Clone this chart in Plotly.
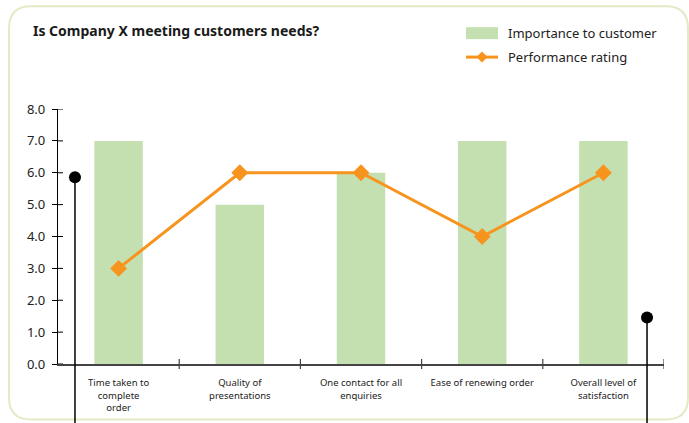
import plotly.graph_objects as go

# ---- data ----
categories = ["Time taken to<br>complete<br>order", "Quality of<br>presentations",
              "One contact for all<br>enquiries", "Ease of renewing order",
              "Overall level of<br>satisfaction"]
importance = [7, 5, 6, 7, 7]
performance = [3, 6, 6, 4, 6]
y_ticks = [0, 1, 2, 3, 4, 5, 6, 7, 8]
y_ticktext = ["0.0", "1.0", "2.0", "3.0", "4.0", "5.0", "6.0", "7.0", "8.0"]
# decorative pins (position on category scale, top value)
pin_x = [-0.36, 4.36]
pin_y = [5.86, 1.46]

# ---- layout geometry (pixels) ----
W, H = 689, 423
L, R, T, B = 58, 25, 109, 58.5
PW, PH = W - L - R, H - T - B
X_RANGE = [-0.5, 4.5]
Y_RANGE = [0, 8]
px_per_x = PW / (X_RANGE[1] - X_RANGE[0])
px_per_y = PH / (Y_RANGE[1] - Y_RANGE[0])


def fx(px):
    return (px - L) / PW


def fy(py):
    return (H - B - py) / PH


def vy(v):
    return (v - Y_RANGE[0]) / (Y_RANGE[1] - Y_RANGE[0])


idx = list(range(len(categories)))
GREEN = "#c5e0b0"
ORANGE = "#f7941d"
FONT = "Noto Sans"

fig = go.Figure()
fig.add_trace(go.Bar(x=idx, y=importance, width=0.4, marker=dict(color=GREEN, line_width=0),
                     showlegend=False))
fig.add_trace(go.Scatter(x=idx, y=performance, mode="lines+markers",
                         line=dict(color=ORANGE, width=3),
                         marker=dict(symbol="diamond", size=13, color=ORANGE),
                         showlegend=False, cliponaxis=False))

shapes = []
# inside halves of the y ticks
dx = 5 / px_per_x
for v in y_ticks:
    shapes.append(dict(type="line", xref="x", yref="y", x0=X_RANGE[0], x1=X_RANGE[0] + dx,
                       y0=v, y1=v, line=dict(color="black", width=1)))

# x tick marks at category boundaries (crossing the axis)
for i in idx:
    b = i + 0.5
    shapes.append(dict(type="line", xref="x", yref="paper", x0=b, x1=b,
                       y0=-5 / PH, y1=5 / PH, line=dict(color="#444", width=1.2)))

# pins
for xp, yp in zip(pin_x, pin_y):
    shapes.append(dict(type="line", xref="x", yref="paper", x0=xp, x1=xp,
                       y0=vy(yp), y1=-(B + 2) / PH, line=dict(color="black", width=1.5)))
fig.add_trace(go.Scatter(x=pin_x, y=pin_y, mode="markers",
                         marker=dict(color="black", size=12),
                         showlegend=False, cliponaxis=False, hoverinfo="skip"))

# ---- rounded border ----
bl, bt, br, bb, rad = 9, 6, 688, 420, 22
path = (f"M {fx(bl + rad)},{fy(bt)} L {fx(br - rad)},{fy(bt)} "
        f"Q {fx(br)},{fy(bt)} {fx(br)},{fy(bt + rad)} "
        f"L {fx(br)},{fy(bb - rad)} Q {fx(br)},{fy(bb)} {fx(br - rad)},{fy(bb)} "
        f"L {fx(bl + rad)},{fy(bb)} Q {fx(bl)},{fy(bb)} {fx(bl)},{fy(bb - rad)} "
        f"L {fx(bl)},{fy(bt + rad)} Q {fx(bl)},{fy(bt)} {fx(bl + rad)},{fy(bt)} Z")
shapes.append(dict(type="path", path=path, xref="paper", yref="paper",
                   line=dict(color="#e1ecc6", width=2), layer="below"))

# ---- manual legend ----
shapes.append(dict(type="rect", xref="paper", yref="paper",
                   x0=fx(466), x1=fx(498), y0=fy(27), y1=fy(39),
                   fillcolor=GREEN, line_width=0))
shapes.append(dict(type="line", xref="paper", yref="paper",
                   x0=fx(466), x1=fx(498), y0=fy(57), y1=fy(57),
                   line=dict(color=ORANGE, width=3)))
cx, cy, d = 482, 57, 5.5
shapes.append(dict(type="path", xref="paper", yref="paper",
                   path=f"M {fx(cx - d)},{fy(cy)} L {fx(cx)},{fy(cy - d)} L {fx(cx + d)},{fy(cy)} L {fx(cx)},{fy(cy + d)} Z",
                   fillcolor=ORANGE, line_width=0))

annotations = [
    dict(text="<b>Is Company X meeting customers needs?</b>", x=fx(31), y=fy(30),
         xref="paper", yref="paper", xanchor="left", yanchor="middle", showarrow=False,
         font=dict(size=14, color="#1a1a1a", family=FONT)),
    dict(text="Importance to customer", x=fx(506), y=fy(33), xref="paper", yref="paper",
         xanchor="left", yanchor="middle", showarrow=False,
         font=dict(size=13, color="#222", family=FONT)),
    dict(text="Performance rating", x=fx(506), y=fy(57), xref="paper", yref="paper",
         xanchor="left", yanchor="middle", showarrow=False,
         font=dict(size=13, color="#222", family=FONT)),
]

fig.update_layout(
    width=W, height=H,
    margin=dict(l=L, r=R, t=T, b=B, pad=0, autoexpand=False),
    paper_bgcolor="white", plot_bgcolor="white",
    font=dict(family=FONT, color="#222"),
    shapes=shapes, annotations=annotations,
    showlegend=False,
    xaxis=dict(range=X_RANGE, tickvals=idx, ticktext=categories, showgrid=False,
               zeroline=False, showline=True, linecolor="#444", linewidth=1.5,
               ticks="", tickfont=dict(size=9.5, color="#222"), ticklabelstandoff=9,
               automargin=False, fixedrange=True),
    yaxis=dict(range=Y_RANGE, tickvals=y_ticks, ticktext=y_ticktext, showgrid=False,
               zeroline=False, showline=True, linecolor="black", linewidth=1.2,
               ticks="outside", ticklen=5, tickcolor="black", tickwidth=1,
               tickfont=dict(size=13, color="#222"), ticklabelstandoff=4,
               automargin=False, fixedrange=True),
)

fig.write_html("out.html")
